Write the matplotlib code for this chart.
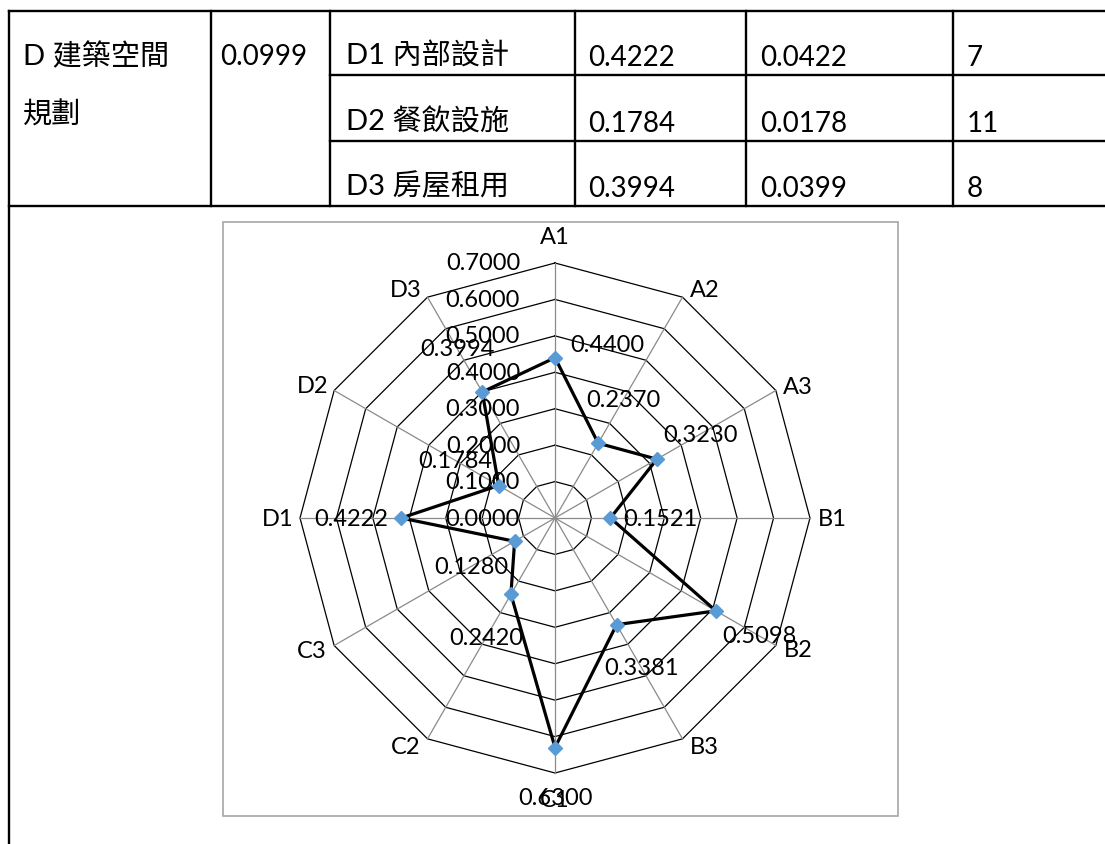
import numpy as np
import matplotlib
matplotlib.use('Agg')
import matplotlib.pyplot as plt
from matplotlib.patches import Rectangle

plt.rcParams['font.family'] = ['Lato', 'Noto Sans CJK TC', 'DejaVu Sans']

# table data
group_label = ['D 建築空間', '規劃']
group_weight = '0.0999'
sub_items = ['D1 內部設計', 'D2 餐飲設施', 'D3 房屋租用']
local_weights = ['0.4222', '0.1784', '0.3994']
global_weights = ['0.0422', '0.0178', '0.0399']
ranks = ['7', '11', '8']

# radar data
categories = ['A1', 'A2', 'A3', 'B1', 'B2', 'B3', 'C1', 'C2', 'C3', 'D1', 'D2', 'D3']
values = [0.4400, 0.2370, 0.3230, 0.1521, 0.5098, 0.3381,
          0.6300, 0.2420, 0.1280, 0.4222, 0.1784, 0.3994]
ring_levels = [0.0, 0.1, 0.2, 0.3, 0.4, 0.5, 0.6, 0.7]

W, H = 1105, 845
PX = 72 / 100  # points per pixel at dpi 100

fig = plt.figure(figsize=(W / 100, H / 100), dpi=100)
fig.patch.set_facecolor('white')

# ---- background layer in pixel coordinates: table and chart frame ----
bg = fig.add_axes([0, 0, 1, 1])
bg.set_xlim(0, W)
bg.set_ylim(H, 0)
bg.set_axis_off()

col_x = [9, 211, 330, 575, 746, 953]
row_y = [12, 76, 142, 207]
lw_tab = 1.7

bg.plot([col_x[0], W], [row_y[0], row_y[0]], color='black', lw=lw_tab)
bg.plot([col_x[0], W], [row_y[3], row_y[3]], color='black', lw=lw_tab)
for y in row_y[1:3]:
    bg.plot([col_x[2], W], [y, y], color='black', lw=lw_tab)
bg.plot([col_x[0], col_x[0]], [row_y[0], H], color='black', lw=lw_tab)
for x in col_x[1:]:
    bg.plot([x, x], [row_y[0], row_y[3]], color='black', lw=lw_tab)

tfs = 20
bg.text(23, 57, group_label[0], fontsize=tfs + 1, ha='left', va='center')
bg.text(23, 115, group_label[1], fontsize=tfs + 1, ha='left', va='center')
bg.text(220, 57, group_weight, fontsize=tfs, ha='left', va='center')
for i in range(3):
    yc = row_y[i + 1] - 18
    bg.text(346, yc - 2, sub_items[i], fontsize=tfs + 1, ha='left', va='center')
    bg.text(588, yc, local_weights[i], fontsize=tfs, ha='left', va='center')
    bg.text(760, yc, global_weights[i], fontsize=tfs, ha='left', va='center')
    bg.text(967, yc, ranks[i], fontsize=tfs, ha='left', va='center')

bg.add_patch(Rectangle((223, 223), 898 - 223, 817 - 223, fill=False,
                       edgecolor='#a6a6a6', lw=1.2))

# ---- radar chart ----
cx, cy, R = 555, 519, 255
ax = fig.add_axes([(cx - R) / W, (H - cy - R) / H, 2 * R / W, 2 * R / H],
                  projection='polar')
ax.set_theta_offset(np.pi / 2)
ax.set_theta_direction(-1)
ax.set_ylim(0, 0.7)
ax.set_axis_off()
ax.patch.set_alpha(0)

n = len(categories)
theta = np.arange(n) * 2 * np.pi / n
theta_c = np.append(theta, theta[0])

for lev in ring_levels[1:]:
    ax.plot(theta_c, [lev] * (n + 1), color='black', lw=0.9, clip_on=False)
for t in theta:
    ax.plot([t, t], [0, 0.7], color='#8a8a8a', lw=0.9, clip_on=False)

vals_c = values + values[:1]
ax.plot(theta_c, vals_c, color='black', lw=2.3, clip_on=False, zorder=3)
ax.plot(theta, values, ls='none', marker='D', ms=6.8, color='#5B9BD5',
        mec='#5B9BD5', clip_on=False, zorder=4)

cfs = 17
# radial scale labels along A1 axis
for lev in ring_levels:
    ax.annotate(f'{lev:.4f}', xy=(0, lev), xytext=(-35 * PX, 0),
                textcoords='offset points', ha='right', va='center',
                fontsize=cfs, annotation_clip=False)

# category labels
for t, name in zip(theta, categories):
    phi = np.pi / 2 - t
    c, s = np.cos(phi), np.sin(phi)
    if abs(c) > 0.1:
        dx, dy = 22 * np.sign(c), 9 * s
    else:
        dx, dy = 0, 27 * s
    ax.annotate(name, xy=(t, 0.7), xytext=(dx * PX, dy * PX),
                textcoords='offset points', ha='center', va='center',
                fontsize=cfs, annotation_clip=False)

# value labels
for i, (t, v) in enumerate(zip(theta, values)):
    phi = np.pi / 2 - t
    if i == 0:
        dx, dy = 52, 13
    else:
        dx, dy = 50 * np.cos(phi), 50 * np.sin(phi)
    ax.annotate(f'{v:.4f}', xy=(t, v), xytext=(dx * PX, dy * PX),
                textcoords='offset points', ha='center', va='center',
                fontsize=cfs, annotation_clip=False, zorder=5)

fig.savefig('out.png', dpi=100)
